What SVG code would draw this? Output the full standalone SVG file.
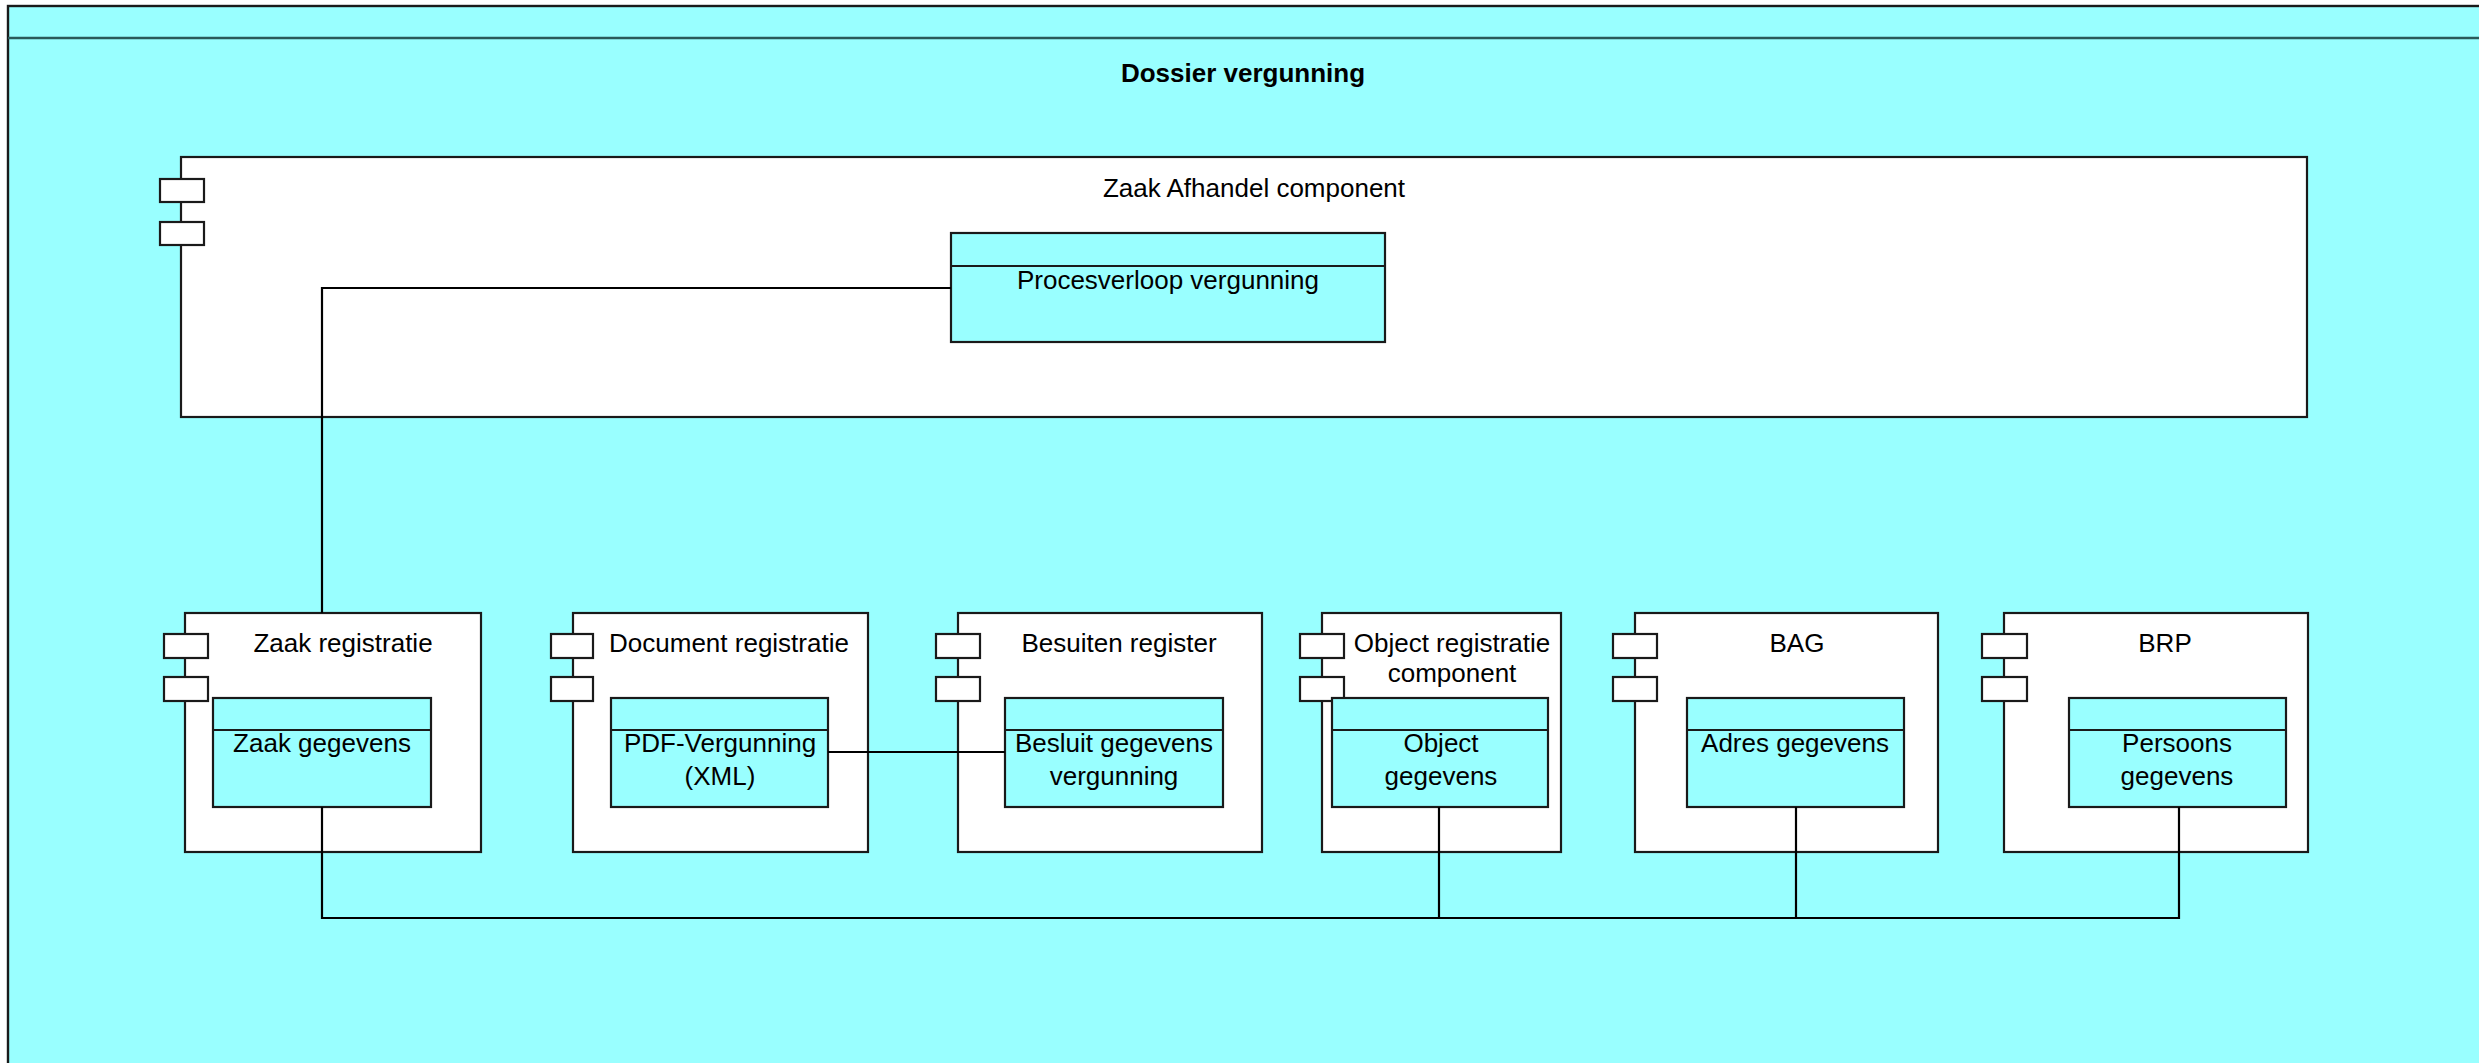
<svg xmlns="http://www.w3.org/2000/svg" width="2479" height="1063" viewBox="0 0 2479 1063">
<style>
.box{fill:#ffffff;stroke:#1a1a1a;stroke-width:2.2}
.port{fill:#ffffff;stroke:#1a1a1a;stroke-width:2.2}
.inner{fill:#99ffff;stroke:#1a1a1a;stroke-width:2.2}
.div{stroke:#1a1a1a;stroke-width:2.2;fill:none}
.conn{stroke:#000000;stroke-width:2.2;fill:none}
text{font-family:"Liberation Sans",Arial,sans-serif;font-size:26px;fill:#000000;text-anchor:middle}
.title{font-weight:bold}
</style>
<rect x="0" y="0" width="2479" height="1063" fill="#ffffff"/>
<g id="container">
<rect x="8" y="6" width="2480" height="1100" fill="#99ffff" stroke="#1a1a1a" stroke-width="2.4"/>
<line x1="8" y1="38" x2="2479" y2="38" stroke="#2a5a5a" stroke-width="2.4"/>
<text class="title" x="1243" y="82">Dossier vergunning</text>
</g>
<g id="zaak-afhandel">
<rect class="box" x="181" y="157" width="2126" height="260"/>
<rect class="port" x="160" y="179" width="44" height="23"/>
<rect class="port" x="160" y="222" width="44" height="23"/>
<text x="1254" y="197">Zaak Afhandel component</text>
</g>
<g id="procesverloop">
<rect class="inner" x="951" y="233" width="434" height="109"/>
<line class="div" x1="951" y1="266" x2="1385" y2="266"/>
<text x="1168" y="289">Procesverloop vergunning</text>
</g>
<g id="zaak-registratie">
<rect class="box" x="185" y="613" width="296" height="239"/>
<rect class="port" x="164" y="634" width="44" height="24"/>
<rect class="port" x="164" y="677" width="44" height="24"/>
<text x="343" y="652">Zaak registratie</text>
</g>
<g id="zaak-gegevens">
<rect class="inner" x="213" y="698" width="218" height="109"/>
<line class="div" x1="213" y1="730" x2="431" y2="730"/>
<text x="322" y="752">Zaak gegevens</text>
</g>
<g id="document-registratie">
<rect class="box" x="573" y="613" width="295" height="239"/>
<rect class="port" x="551" y="634" width="42" height="24"/>
<rect class="port" x="551" y="677" width="42" height="24"/>
<text x="729" y="652">Document registratie</text>
</g>
<g id="pdf-vergunning">
<rect class="inner" x="611" y="698" width="217" height="109"/>
<line class="div" x1="611" y1="730" x2="828" y2="730"/>
<text x="720" y="752">PDF-Vergunning</text>
<text x="720" y="785">(XML)</text>
</g>
<g id="besluiten-register">
<rect class="box" x="958" y="613" width="304" height="239"/>
<rect class="port" x="936" y="634" width="44" height="24"/>
<rect class="port" x="936" y="677" width="44" height="24"/>
<text x="1119" y="652">Besuiten register</text>
</g>
<g id="besluit-gegevens">
<rect class="inner" x="1005" y="698" width="218" height="109"/>
<line class="div" x1="1005" y1="730" x2="1223" y2="730"/>
<text x="1114" y="752">Besluit gegevens</text>
<text x="1114" y="785">vergunning</text>
</g>
<g id="object-registratie">
<rect class="box" x="1322" y="613" width="239" height="239"/>
<rect class="port" x="1300" y="634" width="44" height="24"/>
<rect class="port" x="1300" y="677" width="44" height="24"/>
<text x="1452" y="652">Object registratie</text>
<text x="1452" y="682">component</text>
</g>
<g id="object-gegevens">
<rect class="inner" x="1332" y="698" width="216" height="109"/>
<line class="div" x1="1332" y1="730" x2="1548" y2="730"/>
<text x="1441" y="752">Object</text>
<text x="1441" y="785">gegevens</text>
</g>
<g id="bag">
<rect class="box" x="1635" y="613" width="303" height="239"/>
<rect class="port" x="1613" y="634" width="44" height="24"/>
<rect class="port" x="1613" y="677" width="44" height="24"/>
<text x="1797" y="652">BAG</text>
</g>
<g id="adres-gegevens">
<rect class="inner" x="1687" y="698" width="217" height="109"/>
<line class="div" x1="1687" y1="730" x2="1904" y2="730"/>
<text x="1795" y="752">Adres gegevens</text>
</g>
<g id="brp">
<rect class="box" x="2004" y="613" width="304" height="239"/>
<rect class="port" x="1982" y="634" width="45" height="24"/>
<rect class="port" x="1982" y="677" width="45" height="24"/>
<text x="2165" y="652">BRP</text>
</g>
<g id="persoons-gegevens">
<rect class="inner" x="2069" y="698" width="217" height="109"/>
<line class="div" x1="2069" y1="730" x2="2286" y2="730"/>
<text x="2177" y="752">Persoons</text>
<text x="2177" y="785">gegevens</text>
</g>
<g id="connectors">
<polyline class="conn" points="951,288 322,288 322,613"/>
<line class="conn" x1="828" y1="752" x2="1005" y2="752"/>
<polyline class="conn" points="322,807 322,918 2179,918 2179,807"/>
<line class="conn" x1="1439" y1="807" x2="1439" y2="918"/>
<line class="conn" x1="1796" y1="807" x2="1796" y2="918"/>
</g>
</svg>
